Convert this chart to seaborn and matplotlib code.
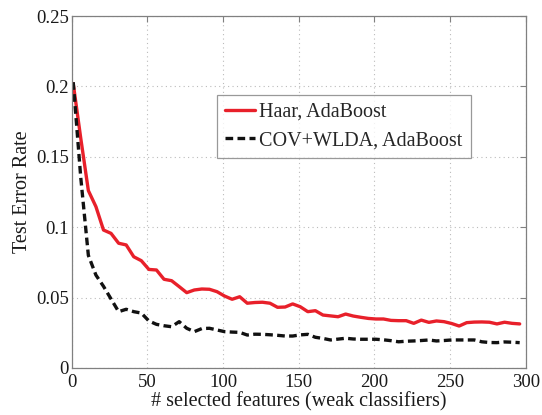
import matplotlib
matplotlib.use("Agg")
import matplotlib.pyplot as plt
import seaborn as sns
import pandas as pd

# number of selected features (weak classifiers)
n_features = [1, 6, 11, 16, 21, 26, 31, 36, 41, 46,
              51, 56, 61, 66, 71, 76, 81, 86, 91, 96,
              101, 106, 111, 116, 121, 126, 131, 136, 141, 146,
              151, 156, 161, 166, 171, 176, 181, 186, 191, 196,
              201, 206, 211, 216, 221, 226, 231, 236, 241, 246,
              251, 256, 261, 266, 271, 276, 281, 286, 291, 296]

haar_err = [0.202, 0.163, 0.126, 0.1146, 0.098, 0.0956, 0.0886, 0.0874, 0.079, 0.0762,
            0.070, 0.0696, 0.063, 0.062, 0.0578, 0.0535, 0.0554, 0.0561, 0.0559, 0.0542,
            0.0511, 0.0488, 0.0506, 0.046, 0.0465, 0.0467, 0.046, 0.0431, 0.0433, 0.0455,
            0.0435, 0.040, 0.0407, 0.0376, 0.037, 0.0364, 0.0383, 0.0369, 0.036, 0.0352,
            0.0348, 0.0348, 0.0338, 0.0336, 0.0336, 0.0317, 0.034, 0.0324, 0.0334, 0.0329,
            0.0316, 0.0298, 0.0322, 0.0326, 0.0327, 0.0325, 0.0313, 0.0325, 0.0317, 0.0313]

cov_err = [0.203, 0.135, 0.080, 0.066, 0.058, 0.049, 0.040, 0.0417, 0.040, 0.039,
           0.0334, 0.031, 0.030, 0.0293, 0.0329, 0.0282, 0.0258, 0.028, 0.0282, 0.027,
           0.0258, 0.0255, 0.0253, 0.0234, 0.024, 0.0239, 0.0236, 0.0232, 0.0227, 0.0227,
           0.0235, 0.0239, 0.0218, 0.021, 0.0199, 0.0205, 0.0211, 0.0206, 0.0204, 0.0204,
           0.0204, 0.020, 0.0194, 0.0186, 0.019, 0.0192, 0.0195, 0.0199, 0.0192, 0.0195,
           0.0199, 0.0199, 0.0199, 0.0199, 0.0186, 0.0181, 0.018, 0.0185, 0.0183, 0.018]

labels = ["Haar, AdaBoost", "COV+WLDA, AdaBoost"]
x_ticks = [0, 50, 100, 150, 200, 250, 300]
y_ticks = [0, 0.05, 0.1, 0.15, 0.2, 0.25]
y_ticklabels = ["0", "0.05", "0.1", "0.15", "0.2", "0.25"]

df = pd.DataFrame({
    "features": n_features * 2,
    "error": haar_err + cov_err,
    "method": [labels[0]] * len(n_features) + [labels[1]] * len(n_features),
})

sns.set_style("white")
plt.rcParams["font.family"] = ["Liberation Serif", "DejaVu Serif"]

fig = plt.figure(figsize=(5.42, 4.15), dpi=100)
ax = fig.add_axes([0.1323, 0.1133, 0.8377, 0.8481])

sns.lineplot(data=df, x="features", y="error", hue="method", style="method",
             palette={labels[0]: "#e8202a", labels[1]: "#111111"},
             dashes={labels[0]: "", labels[1]: (2.3, 1.3)},
             linewidth=2.4, ax=ax, legend=True)

ax.set_xlim(0, 300)
ax.set_ylim(0, 0.25)
ax.set_xticks(x_ticks)
ax.set_xticklabels([str(t) for t in x_ticks])
ax.set_yticks(y_ticks)
ax.set_yticklabels(y_ticklabels)
ax.grid(True, linestyle=(0, (1, 3)), color="#bbbbbb", linewidth=0.8)
ax.tick_params(direction="in", length=4, width=0.8, color="#808080",
               labelsize=13.5, labelcolor="#1a1a1a",
               top=True, right=True, pad=2)
ax.tick_params(axis="x", pad=4)
for sp in ax.spines.values():
    sp.set_color("#808080")
    sp.set_linewidth(0.9)

ax.set_xlabel("# selected features (weak classifiers)", fontsize=14.5,
              color="#1a1a1a", labelpad=1)
ax.set_ylabel("Test Error Rate", fontsize=14.5, color="#1a1a1a", labelpad=3)

handles, lbls = ax.get_legend_handles_labels()
leg = ax.legend(handles, lbls, loc="upper left", bbox_to_anchor=(0.32, 0.776),
                borderaxespad=0, fontsize=14.5, frameon=True, fancybox=False,
                edgecolor="#808080", handlelength=1.5, handletextpad=0.2,
                borderpad=0.4, labelspacing=0.45)
leg.get_frame().set_linewidth(0.9)

fig.savefig("out.png", dpi=100)
